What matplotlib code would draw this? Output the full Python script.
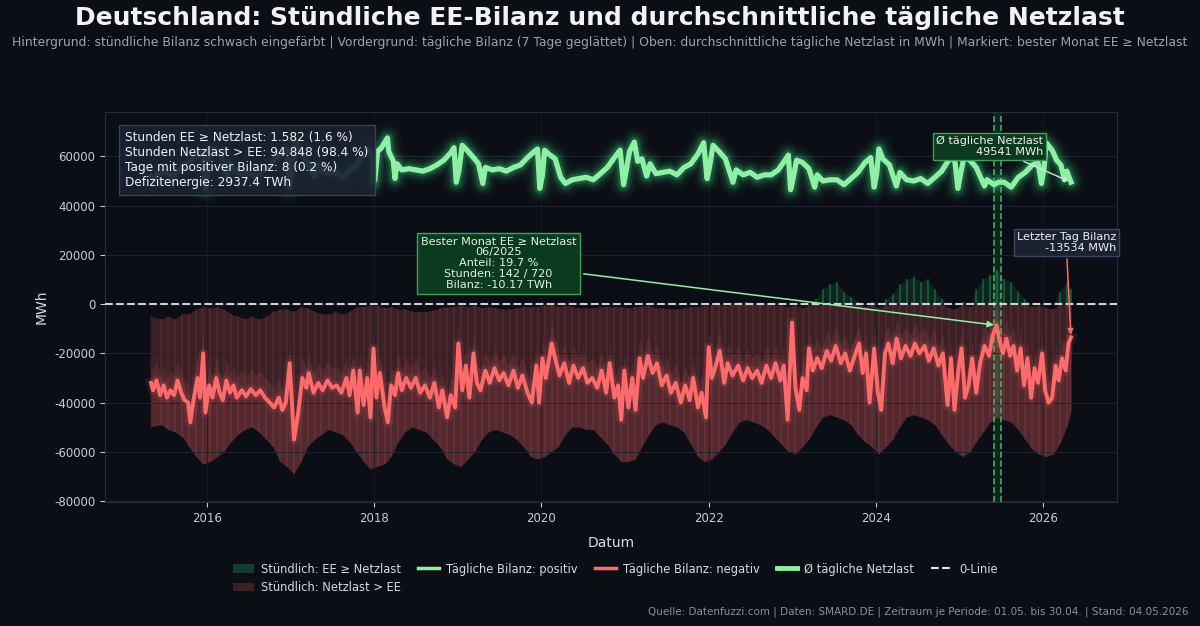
import numpy as np
import pandas as pd
import matplotlib
matplotlib.use("Agg")
import matplotlib.pyplot as plt
import matplotlib.dates as mdates
from matplotlib.patches import Patch
from matplotlib.lines import Line2D

plt.rcParams["axes.unicode_minus"] = False

load_dates = [
    "2015-05-01", "2015-05-15", "2015-06-01", "2015-07-01", "2015-08-01", "2015-09-01", "2015-10-01",
    "2015-11-01", "2015-12-01", "2015-12-15", "2015-12-25", "2016-01-01", "2016-01-10", "2016-02-01",
    "2016-03-01", "2016-03-27", "2016-04-05", "2016-05-01", "2016-06-01", "2016-07-01", "2016-08-01",
    "2016-09-01", "2016-10-01", "2016-11-01", "2016-12-01", "2016-12-15", "2016-12-25", "2017-01-05",
    "2017-01-20", "2017-02-01", "2017-03-01", "2017-04-15", "2017-04-25", "2017-05-15", "2017-06-15",
    "2017-07-15", "2017-08-15", "2017-09-15", "2017-10-15", "2017-11-15", "2017-12-10", "2017-12-22",
    "2017-12-27", "2018-01-03", "2018-01-15", "2018-02-01", "2018-02-27", "2018-03-05", "2018-03-25",
    "2018-04-01", "2018-04-10", "2018-05-01", "2018-06-01", "2018-07-01", "2018-08-01", "2018-09-01",
    "2018-10-01", "2018-11-01", "2018-12-01", "2018-12-15", "2018-12-25", "2019-01-05", "2019-01-20",
    "2019-02-10", "2019-03-10", "2019-04-01", "2019-04-20", "2019-05-01", "2019-06-01", "2019-07-01",
    "2019-08-01", "2019-09-01", "2019-10-01", "2019-11-01", "2019-12-01", "2019-12-15", "2019-12-25",
    "2020-01-05", "2020-01-15", "2020-02-01", "2020-03-01", "2020-03-25", "2020-04-15", "2020-05-15",
    "2020-06-15", "2020-07-15", "2020-08-15", "2020-09-15", "2020-10-15", "2020-11-15", "2020-12-10",
    "2020-12-25", "2021-01-05", "2021-01-20", "2021-02-10", "2021-02-25", "2021-03-15", "2021-04-05",
    "2021-04-20", "2021-05-15", "2021-06-15", "2021-07-15", "2021-08-15", "2021-09-15", "2021-10-15",
    "2021-11-15", "2021-12-10", "2021-12-25", "2022-01-05", "2022-01-20", "2022-02-15", "2022-03-15",
    "2022-04-17", "2022-05-01", "2022-06-01", "2022-07-01", "2022-08-01", "2022-09-01", "2022-10-01",
    "2022-11-01", "2022-12-01", "2022-12-15", "2022-12-25", "2023-01-05", "2023-01-20", "2023-02-15",
    "2023-03-15", "2023-04-09", "2023-04-20", "2023-05-15", "2023-06-15", "2023-07-15", "2023-08-15",
    "2023-09-15", "2023-10-15", "2023-11-15", "2023-12-10", "2023-12-25", "2024-01-05", "2024-01-15",
    "2024-02-01", "2024-03-01", "2024-03-31", "2024-04-15", "2024-05-15", "2024-06-15", "2024-07-15",
    "2024-08-15", "2024-09-15", "2024-10-15", "2024-11-15", "2024-12-10", "2024-12-25", "2025-01-05",
    "2025-01-20", "2025-02-15", "2025-03-15", "2025-04-20", "2025-05-01", "2025-06-01", "2025-06-20",
    "2025-07-15", "2025-08-15", "2025-09-15", "2025-10-15", "2025-11-15", "2025-12-10", "2025-12-25",
    "2026-01-05", "2026-01-15", "2026-02-10", "2026-03-01", "2026-03-20", "2026-04-05", "2026-04-15",
    "2026-05-03",
]
load_values = [
    52000, 50500, 53000, 54000, 52000, 55000, 56500, 59000, 61000, 61500, 47000, 50000, 62500, 63000,
    61000, 52000, 58000, 54000, 53000, 53500, 51500, 54000, 56000, 59500, 62000, 63000, 47500, 52000,
    66000, 64000, 60000, 52000, 57000, 54000, 53000, 53500, 51500, 54500, 56500, 61000, 63000, 60000,
    49000, 50500, 62000, 63500, 67500, 62000, 58000, 51000, 57000, 54500, 55000, 54500, 54000, 55000,
    56500, 58500, 61500, 63500, 49500, 54000, 64500, 62500, 59500, 57000, 49000, 55500, 54500, 55000,
    54000, 55500, 56500, 59500, 62000, 63000, 47000, 52000, 62500, 61000, 59000, 51500, 49000, 50500,
    51000, 51500, 50500, 53000, 55500, 59500, 62500, 48500, 54000, 62000, 65800, 58000, 59000, 52000,
    57000, 53000, 53500, 54000, 52500, 55500, 57000, 61000, 65500, 51000, 56000, 64500, 62000, 59000,
    49500, 54500, 52500, 53500, 51500, 52500, 52500, 54500, 58500, 60500, 46500, 51000, 58500, 57500,
    55000, 47500, 52500, 50000, 50500, 50500, 48500, 51000, 53500, 57500, 59500, 47500, 53000, 63000,
    59000, 56500, 48000, 53500, 50500, 50000, 51000, 49000, 51500, 54000, 58500, 59500, 47000, 52500,
    59500, 58500, 55500, 48000, 50500, 48500, 49500, 49500, 47500, 51500, 53500, 56500, 57500, 49000,
    55000, 65500, 62500, 58500, 56500, 50500, 54000, 49541,
]

bal_dates = [
    "2015-05-01", "2015-05-10", "2015-05-25", "2015-06-10", "2015-06-25", "2015-07-10", "2015-07-25",
    "2015-08-10", "2015-08-25", "2015-09-10", "2015-09-25", "2015-10-10", "2015-10-20", "2015-11-01",
    "2015-11-20", "2015-12-01", "2015-12-15", "2015-12-25", "2016-01-10", "2016-01-25", "2016-02-10",
    "2016-02-25", "2016-03-10", "2016-03-25", "2016-04-10", "2016-04-25", "2016-05-10", "2016-06-01",
    "2016-06-20", "2016-07-10", "2016-08-01", "2016-08-20", "2016-09-10", "2016-10-01", "2016-10-20",
    "2016-11-10", "2016-11-25", "2016-12-10", "2016-12-27", "2017-01-15", "2017-02-01", "2017-02-20",
    "2017-03-10", "2017-03-20", "2017-04-10", "2017-05-01", "2017-05-20", "2017-06-10", "2017-07-01",
    "2017-07-20", "2017-08-10", "2017-09-01", "2017-09-15", "2017-10-01", "2017-10-20", "2017-10-29",
    "2017-11-15", "2017-12-01", "2017-12-15", "2017-12-28", "2018-01-10", "2018-01-25", "2018-02-15",
    "2018-03-01", "2018-03-15", "2018-04-01", "2018-04-15", "2018-05-01", "2018-05-20", "2018-06-10",
    "2018-07-01", "2018-07-20", "2018-08-10", "2018-09-01", "2018-09-20", "2018-10-10", "2018-10-25",
    "2018-11-15", "2018-12-01", "2018-12-20", "2019-01-03", "2019-01-20", "2019-02-05", "2019-02-20",
    "2019-03-10", "2019-03-25", "2019-04-10", "2019-05-01", "2019-05-20", "2019-06-10", "2019-07-01",
    "2019-07-20", "2019-08-10", "2019-09-01", "2019-09-20", "2019-10-10", "2019-11-01", "2019-11-20",
    "2019-12-10", "2019-12-22", "2020-01-05", "2020-01-20", "2020-02-15", "2020-03-01", "2020-03-20",
    "2020-04-10", "2020-05-01", "2020-05-20", "2020-06-10", "2020-07-01", "2020-07-20", "2020-08-10",
    "2020-09-01", "2020-09-20", "2020-10-10", "2020-10-25", "2020-11-15", "2020-12-01", "2020-12-15",
    "2020-12-28", "2021-01-15", "2021-02-01", "2021-02-15", "2021-03-05", "2021-03-20", "2021-04-10",
    "2021-05-01", "2021-05-20", "2021-06-10", "2021-07-01", "2021-07-20", "2021-08-10", "2021-09-01",
    "2021-09-20", "2021-10-10", "2021-10-25", "2021-11-15", "2021-12-01", "2021-12-20", "2022-01-01",
    "2022-01-15", "2022-02-01", "2022-02-18", "2022-03-10", "2022-03-25", "2022-04-15", "2022-05-10",
    "2022-06-01", "2022-06-20", "2022-07-10", "2022-08-01", "2022-08-20", "2022-09-10", "2022-10-01",
    "2022-10-20", "2022-11-10", "2022-11-25", "2022-12-12", "2022-12-31", "2023-01-15", "2023-02-01",
    "2023-02-15", "2023-03-05", "2023-03-15", "2023-04-01", "2023-04-20", "2023-05-10", "2023-06-01",
    "2023-06-20", "2023-07-10", "2023-08-01", "2023-08-20", "2023-09-10", "2023-10-01", "2023-10-20",
    "2023-11-05", "2023-11-20", "2023-12-05", "2023-12-25", "2024-01-10", "2024-01-25", "2024-02-10",
    "2024-02-25", "2024-03-15", "2024-04-01", "2024-04-20", "2024-05-10", "2024-06-01", "2024-06-20",
    "2024-07-10", "2024-08-01", "2024-08-20", "2024-09-10", "2024-10-01", "2024-10-20", "2024-11-10",
    "2024-11-25", "2024-12-10", "2024-12-28", "2025-01-10", "2025-01-25", "2025-02-10", "2025-02-25",
    "2025-03-15", "2025-04-01", "2025-04-20", "2025-05-10", "2025-05-25", "2025-06-12", "2025-06-25",
    "2025-07-10", "2025-07-25", "2025-08-10", "2025-08-25", "2025-09-10", "2025-09-25", "2025-10-10",
    "2025-10-25", "2025-11-10", "2025-11-25", "2025-12-10", "2025-12-28", "2026-01-10", "2026-01-25",
    "2026-02-10", "2026-02-25", "2026-03-10", "2026-03-25", "2026-04-10", "2026-04-22", "2026-05-03",
]
bal_values = [
    -32000, -35000, -31000, -37000, -33000, -38000, -35000, -37000, -31000, -36000, -39000, -40000,
    -48000, -40000, -30000, -38000, -20000, -44000, -33000, -38000, -30000, -36000, -39000, -31000,
    -36000, -33000, -38000, -35000, -37500, -34500, -37000, -35000, -38000, -40000, -42000, -38000,
    -43000, -40000, -24000, -55000, -45000, -30000, -34000, -28000, -36000, -32000, -35000, -31000,
    -34000, -33000, -36000, -30000, -37000, -27000, -44000, -27000, -41000, -30000, -46000, -18000,
    -38000, -28000, -42000, -48000, -33000, -37000, -28000, -35000, -30000, -34000, -30000, -36000,
    -33000, -38000, -32000, -42000, -35000, -46000, -37000, -42000, -16000, -35000, -25000, -38000,
    -20000, -32000, -35000, -27000, -32000, -26000, -31000, -28000, -33000, -27000, -34000, -29000,
    -36000, -40000, -25000, -40000, -22000, -30000, -16000, -22000, -29000, -24000, -32000, -25000,
    -30000, -26000, -32000, -30000, -34000, -27000, -36000, -24000, -38000, -33000, -47000, -27000,
    -42000, -30000, -43000, -22000, -30000, -21000, -28000, -24000, -33000, -29000, -36000, -32000,
    -40000, -33000, -39000, -30000, -42000, -36000, -46000, -17500, -30000, -25000, -19000, -32000,
    -24000, -29000, -25000, -31000, -26000, -30000, -27000, -32000, -25000, -30000, -24000, -31000,
    -25000, -47000, -7500, -34000, -43000, -30000, -35000, -18000, -27000, -22000, -26000, -19000,
    -23000, -17000, -24000, -20000, -27000, -21000, -16000, -28000, -20000, -40000, -18000, -36000,
    -43000, -20000, -16000, -24000, -14000, -22000, -17000, -21000, -16000, -20000, -17000, -23000,
    -18000, -25000, -20000, -41000, -22000, -43000, -26000, -18000, -38000, -33000, -22000, -36000,
    -24000, -17000, -21000, -13000, -8600, -15000, -20000, -14000, -21000, -17000, -27000, -18000,
    -33000, -22000, -38000, -26000, -32000, -20000, -35000, -40000, -38000, -25000, -31000, -22000,
    -27000, -16000, -13534,
]

# Stündliche Bilanz je Monat: Minimum und Maximum (MWh), Mai 2015 bis Mai 2026
hour_min = [
    -50000, -49000, -51000, -52000, -54000, -58000, -62000, -65000,
    -64000, -62000, -60000, -56000, -53000, -51000, -50000, -52000, -55000, -58000, -64000, -66000,
    -69000, -64000, -58000, -55000, -53000, -51000, -52000, -53000, -56000, -60000, -64000, -67000,
    -66000, -65000, -62000, -56000, -52000, -50000, -51000, -52000, -55000, -58000, -63000, -65000,
    -66000, -63000, -60000, -55000, -52000, -51000, -52000, -53000, -55000, -58000, -62000, -63000,
    -62000, -60000, -58000, -53000, -50000, -50000, -51000, -51000, -54000, -57000, -61000, -64000,
    -64000, -63000, -58000, -53000, -49000, -48000, -49000, -50000, -52000, -57000, -62000, -64000,
    -63000, -60000, -57000, -52000, -48000, -47000, -48000, -49000, -51000, -54000, -57000, -60000,
    -61000, -58000, -55000, -50000, -46000, -45000, -46000, -47000, -49000, -53000, -56000, -58000,
    -61000, -58000, -55000, -50000, -46000, -45000, -46000, -47000, -49000, -53000, -57000, -60000,
    -62000, -60000, -56000, -52000, -48000, -46000, -47000, -48000, -51000, -55000, -59000, -61000,
    -62000, -61000, -57000, -50000, -44000,
]
hour_max = [
    -5000, -6000, -5000, -6000, -4000, -4000, -2000, -1000,
    -1500, -1000, -2000, -4000, -5000, -6000, -5000, -6000, -5000, -3000, -2000, -2000,
    -3000, -1000, -1500, -3000, -4000, -4000, -3000, -4000, -3000, -1000, -1000, -500,
    -500, -1500, -1000, -2000, -2000, -3000, -3000, -3000, -2500, -1500, -1000, -1000,
    -500, -1000, -500, -1500, -1000, -1500, -2000, -2000, -1500, -1000, -1000, -1000,
    -500, -300, -1000, -500, -1000, -1500, -1500, -1500, -1000, -1000, -1000, -1000,
    -1500, -1000, -800, -500, -1500, -1500, -2000, -2000, -1500, -1000, -1000, -500,
    -300, -200, -500, 500, 800, 1000, 600, 400, 300, -500, -500, -1000,
    -500, -1500, -500, 2000, 6000, 8000, 9000, 5000, 3000, 1000, -1000, 1000,
    -1500, 2000, 4000, 8000, 10000, 11000, 9000, 10000, 6000, 2000, -1500, -2000,
    1000, -1000, 6000, 10000, 12000, 14000, 10000, 9000, 5000, 2000, -1000, -500,
    -1500, -2000, 5000, 9000, 6000,
]

BG = "#0b0e15"
GREEN = "#8ef0a5"
GLOW = "#3ddc84"
RED = "#ff6b6b"
TXT = "#d5d9e0"

t_load = pd.to_datetime(load_dates)
t_bal = pd.to_datetime(bal_dates)
y_load = np.array(load_values, dtype=float)
y_bal = np.array(bal_values, dtype=float)
h_min = np.array(hour_min, dtype=float)
h_max = np.array(hour_max, dtype=float)
t_hour = list(pd.date_range("2015-05-01", periods=len(hour_min), freq="MS") + pd.Timedelta(days=14))
t_hour[0] = pd.Timestamp("2015-05-01")
t_hour[-1] = t_bal[-1]

fig = plt.figure(figsize=(12, 6.26), dpi=100, facecolor=BG)
ax = fig.add_axes([0.0875, 0.198, 0.8433, 0.623])
ax.set_facecolor(BG)

# Hintergrund: stündliche Bilanz
env = ax.fill_between(t_hour, np.minimum(h_max, 0), h_min, color=RED, alpha=0.2, lw=0)
core = ax.fill_between(t_bal, y_bal + 8000, -80000, color=RED, alpha=0.12, lw=0)
core.set_clip_path(env.get_paths()[0], ax.transData)
ax.vlines(t_hour, np.minimum(h_max, 0), h_min, color=RED, alpha=0.12, lw=1.2)
ax.fill_between(t_hour, 0, np.maximum(h_max, 0), color="#2ecc71", alpha=0.12, lw=0)
ax.vlines(t_hour, 0, np.maximum(h_max, 0), color="#2ecc71", alpha=0.35, lw=1.2)

# bester Monat
ax.axvspan(pd.Timestamp("2025-06-01"), pd.Timestamp("2025-07-01"), color="#2ecc71", alpha=0.12, lw=0)
for d in ["2025-06-01", "2025-07-01"]:
    ax.axvline(pd.Timestamp(d), color="#4fbf74", ls="--", lw=1.2, alpha=0.85)

ax.axhline(0, color="#e8e8e8", ls="--", lw=1.5, alpha=0.9, zorder=4)

# Netzlast mit Glow
for lw, a in [(20, 0.04), (15, 0.07), (11, 0.11), (7.5, 0.2)]:
    ax.plot(t_load, y_load, color=GLOW, lw=lw, alpha=a, solid_capstyle="round", zorder=5)
ax.plot(t_load, y_load, color=GREEN, lw=3.8, zorder=6)

# Tägliche Bilanz
neg = np.where(y_bal < 0, y_bal, np.nan)
pos = np.where(y_bal >= 0, y_bal, np.nan)
ax.plot(t_bal, neg, color=RED, lw=7, alpha=0.12, zorder=5)
ax.plot(t_bal, neg, color=RED, lw=2.8, zorder=6)
ax.plot(t_bal, pos, color=GREEN, lw=2.8, zorder=6)

ax.set_ylim(-80400, 78000)
ax.xaxis.set_major_locator(mdates.YearLocator(2))
ax.xaxis.set_major_formatter(mdates.DateFormatter("%Y"))
ax.tick_params(colors="#c8ccd4", labelsize=8.5)
ax.grid(axis="y", color="#1c2230", lw=0.7)
ax.grid(axis="x", color="#161b26", lw=0.5)
for s in ax.spines.values():
    s.set_color("#262c3a")
ax.set_xlabel("Datum", color=TXT, fontsize=10, labelpad=8)
ax.set_ylabel("MWh", color=TXT, fontsize=10)

# Infobox
stats = ("Stunden EE \u2265 Netzlast: 1.582 (1.6 %)\n"
         "Stunden Netzlast > EE: 94.848 (98.4 %)\n"
         "Tage mit positiver Bilanz: 8 (0.2 %)\n"
         "Defizitenergie: 2937.4 TWh")
ax.text(0.02, 0.952, stats, transform=ax.transAxes, va="top", ha="left", fontsize=8.7,
        color="#eef0f4", zorder=10, linespacing=1.2,
        bbox=dict(boxstyle="square,pad=0.5", fc="#1a2232", ec="#3a4560", alpha=0.92))

# bester Monat
ax.annotate("Bester Monat EE \u2265 Netzlast\n06/2025\nAnteil: 19.7 %\nStunden: 142 / 720\nBilanz: -10.17 TWh",
            xy=(pd.Timestamp("2025-06-12"), -8600), xytext=(pd.Timestamp("2019-06-28"), 16600),
            ha="center", va="center", fontsize=8.1, color="#dff3e3", zorder=10, linespacing=1.1,
            bbox=dict(boxstyle="square,pad=0.35", fc="#0c3a1e", ec="#3fa060", lw=1),
            arrowprops=dict(arrowstyle="-|>", color=GREEN, lw=1.1, mutation_scale=9))

ax.annotate("\u00d8 t\u00e4gliche Netzlast\n%d MWh" % round(y_load[-1]),
            xy=(t_load[-1], y_load[-1]), xytext=(pd.Timestamp("2025-05-12"), 64000),
            ha="center", va="center", multialignment="right", fontsize=8.1, color="#eef0f4",
            zorder=10, linespacing=1.1,
            bbox=dict(boxstyle="square,pad=0.25", fc="#0c3a1e", ec="#3fa060", lw=1),
            arrowprops=dict(arrowstyle="-|>", color="#cfe8d3", lw=1.0, mutation_scale=7))

ax.annotate("Letzter Tag Bilanz\n%d MWh" % round(y_bal[-1]),
            xy=(t_bal[-1], y_bal[-1]), xytext=(pd.Timestamp("2026-04-12"), 25000),
            ha="center", va="center", multialignment="right", fontsize=8.1, color="#eef0f4",
            zorder=10, linespacing=1.1,
            bbox=dict(boxstyle="square,pad=0.25", fc="#1a2232", ec="#3a4560", lw=1),
            arrowprops=dict(arrowstyle="-|>", color=RED, lw=1.1, mutation_scale=8))

fig.text(0.5, 0.971, "Deutschland: St\u00fcndliche EE-Bilanz und durchschnittliche t\u00e4gliche Netzlast",
         ha="center", va="center", fontsize=18, fontweight="bold", color="#f2f2f2")
fig.text(0.5, 0.932, "Hintergrund: st\u00fcndliche Bilanz schwach eingef\u00e4rbt | Vordergrund: t\u00e4gliche Bilanz "
         "(7 Tage gegl\u00e4ttet) | Oben: durchschnittliche t\u00e4gliche Netzlast in MWh | Markiert: bester Monat "
         "EE \u2265 Netzlast", ha="center", va="center", fontsize=8.95, color="#9aa3b0")

handles = [
    Patch(facecolor="#2ecc71", alpha=0.25, label="St\u00fcndlich: EE \u2265 Netzlast"),
    Patch(facecolor=RED, alpha=0.2, label="St\u00fcndlich: Netzlast > EE"),
    Line2D([], [], color=GREEN, lw=2.5, label="T\u00e4gliche Bilanz: positiv"),
    Line2D([], [], color=RED, lw=2.5, label="T\u00e4gliche Bilanz: negativ"),
    Line2D([], [], color=GREEN, lw=3.5, label="\u00d8 t\u00e4gliche Netzlast"),
    Line2D([], [], color="#e8e8e8", lw=1.5, ls="--", label="0-Linie"),
]
fig.legend(handles=handles, loc="upper center", bbox_to_anchor=(0.513, 0.118), ncol=5, frameon=False,
           fontsize=8.3, labelcolor=TXT, handlelength=1.8, columnspacing=1.5, handletextpad=0.6)

fig.text(0.99, 0.022, "Quelle: Datenfuzzi.com | Daten: SMARD.DE | Zeitraum je Periode: 01.05. bis 30.04. | "
         "Stand: 04.05.2026", ha="right", va="center", fontsize=7.5, color="#8a909a")

fig.savefig("out.png", dpi=100, facecolor=BG)
